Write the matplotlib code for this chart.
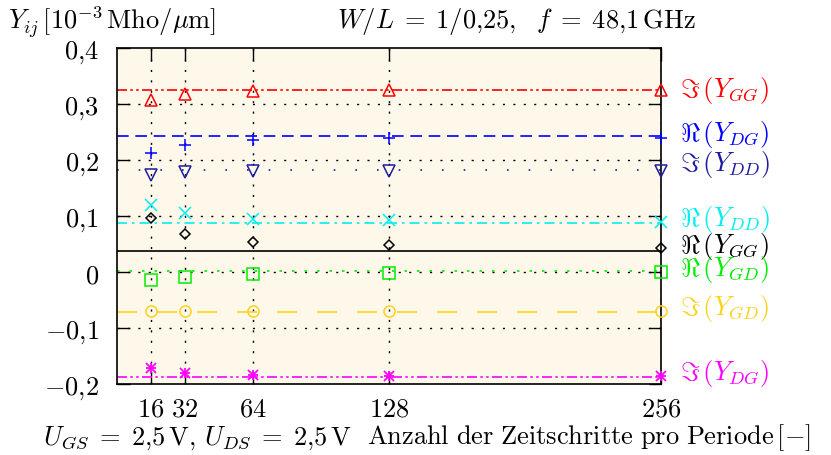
import numpy as np
import matplotlib

matplotlib.use('Agg')
import matplotlib.pyplot as plt

plt.rcParams['mathtext.fontset'] = 'cm'
plt.rcParams['font.family'] = 'serif'
plt.rcParams['font.serif'] = ['DejaVu Serif']

# Zeitschritte pro Periode
steps = [16, 32, 64, 128, 256]

# Y-Parameter [1e-3 Mho/um], je Serie: Werte und Referenzlinie
im_ygg = [0.307, 0.318, 0.323, 0.325, 0.325]
re_ydg = [0.212, 0.226, 0.235, 0.240, 0.240]
im_ydd = [0.174, 0.178, 0.180, 0.180, 0.180]
re_ydd = [0.120, 0.106, 0.095, 0.092, 0.090]
re_ygg = [0.097, 0.067, 0.054, 0.049, 0.042]
re_ygd = [-0.014, -0.009, -0.004, -0.002, 0.000]
im_ygd = [-0.070, -0.070, -0.070, -0.070, -0.070]
im_ydg = [-0.172, -0.181, -0.184, -0.186, -0.186]

ref = {'im_ygg': 0.325, 're_ydg': 0.242, 'im_ydd': 0.183, 're_ydd': 0.088,
       're_ygg': 0.038, 're_ygd': 0.001, 'im_ygd': -0.072, 'im_ydg': -0.188}

series = [
    ('im_ygg', im_ygg, '#ff0000', '^', (0, (6, 2, 1.5, 2, 1.5, 2)), r'$\Im\,(Y_{GG})$', 0.326),
    ('re_ydg', re_ydg, '#0000ff', '+', (0, (7, 4)), r'$\Re\,(Y_{DG})$', 0.247),
    ('im_ydd', im_ydd, '#1c1ca0', 'v', (0, (1, 12)), r'$\Im\,(Y_{DD})$', 0.193),
    ('re_ydd', re_ydd, '#00f0f0', 'x', (0, (6, 3, 1.5, 3)), r'$\Re\,(Y_{DD})$', 0.095),
    ('re_ygg', re_ygg, '#000000', 'D', '-', r'$\Re\,(Y_{GG})$', 0.048),
    ('re_ygd', re_ygd, '#00ee00', 's', (0, (1.5, 6)), r'$\Re\,(Y_{GD})$', 0.006),
    ('im_ygd', im_ygd, '#ffd21a', 'o', (0, (12, 12)), r'$\Im\,(Y_{GD})$', -0.064),
    ('im_ydg', im_ydg, '#ff00ff', 'ast', (0, (6, 2, 1.5, 2, 1.5, 2)), r'$\Im\,(Y_{DG})$', -0.180),
]

fig = plt.figure(figsize=(8.31, 4.56), dpi=100)
ax = fig.add_axes([0.1408, 0.1557, 0.6546, 0.7368])
ax.set_facecolor('#fdf8ea')

ax.set_xlim(0, 256)
ax.set_ylim(-0.2, 0.4)

yt = [-0.2, -0.1, 0, 0.1, 0.2, 0.3, 0.4]
ytl = [r'$-0{,}2$', r'$-0{,}1$', r'$0$', r'$0{,}1$', r'$0{,}2$', r'$0{,}3$', r'$0{,}4$']
ax.set_yticks(yt)
ax.set_yticklabels(ytl, fontsize=19)
ax.set_xticks(steps)
ax.set_xticklabels([r'$%d$' % s for s in steps], fontsize=19)
ax.tick_params(direction='in', length=9, width=1, top=True, right=True)
ax.tick_params(axis='x', pad=8)
ax.tick_params(axis='y', pad=13)

for s in steps:
    ax.axvline(s, color='black', lw=1, ls=(0, (1.5, 6)), zorder=1)
for y in yt[1:-1]:
    ax.axhline(y, color='black', lw=1, ls=(0, (1.5, 6)), zorder=1)

for key, vals, col, mk, ls, lab, ylab in series:
    ax.axhline(ref[key], color=col, lw=1.2, ls=ls, zorder=2)
    if mk == 'ast':
        # Sternchen aus + und x
        for m in ['+', 'x']:
            ax.plot(steps, vals, ls='none', marker=m, ms=7, mec=col, mew=1.3,
                    clip_on=False, zorder=3)
    else:
        ms = 5.5 if mk == 'D' else 8
        ax.plot(steps, vals, ls='none', marker=mk, ms=ms, mec=col, mfc='none',
                mew=1.1, clip_on=False, zorder=3)
    ax.text(1.035, (ylab + 0.2) / 0.6, lab, transform=ax.transAxes, color=col,
            fontsize=19, va='center', ha='left')

for sp in ax.spines.values():
    sp.set_linewidth(1.2)

fig.text(0.01, 0.952, r'$Y_{ij}\,[10^{-3}\,\mathrm{Mho}/\mu\mathrm{m}]$', fontsize=19,
         ha='left', va='center')
fig.text(0.621, 0.952, r'$W/L\; =\; 1/0{,}25,\ \ f\; =\; 48{,}1\,\mathrm{GHz}$', fontsize=19,
         ha='center', va='center')
fig.text(0.052, 0.04, r'$U_{GS}\; =\; 2{,}5\,\mathrm{V},\,U_{DS}\; =\; 2{,}5\,\mathrm{V}$',
         fontsize=19, ha='left', va='center')
fig.text(0.976, 0.04, r'$\mathrm{Anzahl\ der\ Zeitschritte\ pro\ Periode}\,[-]$', fontsize=19,
         ha='right', va='center')

plt.savefig('out.png', dpi=100)
